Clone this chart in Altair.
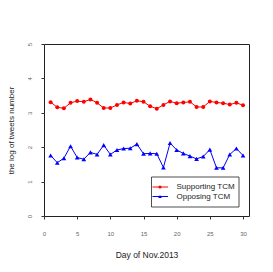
import altair as alt
import pandas as pd

days = list(range(1, 31))
supporting = [3.31, 3.16, 3.13, 3.29, 3.34, 3.32, 3.39, 3.29, 3.14, 3.14,
              3.23, 3.30, 3.27, 3.35, 3.32, 3.19, 3.12, 3.23, 3.33, 3.28,
              3.30, 3.32, 3.17, 3.17, 3.33, 3.30, 3.28, 3.24, 3.29, 3.22]
opposing = [1.76, 1.55, 1.68, 2.03, 1.70, 1.65, 1.85, 1.79, 2.06, 1.79,
            1.92, 1.96, 1.97, 2.09, 1.81, 1.82, 1.81, 1.41, 2.12, 1.92,
            1.82, 1.74, 1.66, 1.73, 1.93, 1.40, 1.40, 1.79, 1.96, 1.76]
series_names = ["Supporting TCM", "Opposing TCM"]
x_ticks = [0, 5, 10, 15, 20, 25, 30]
y_ticks = [0, 1, 2, 3, 4, 5]

df = pd.DataFrame({
    "day": days * 2,
    "value": supporting + opposing,
    "series": [series_names[0]] * 30 + [series_names[1]] * 30,
})

W, H = 205, 172
xs = alt.Scale(domain=[0, 30.9], nice=False, zero=False)
ys = alt.Scale(domain=[0, 5], nice=False)

xax = alt.Axis(values=x_ticks, title="Day of Nov.2013", grid=False, domain=False,
               tickSize=3, tickColor="#333", labelFontSize=6, labelColor="#666",
               labelOverlap=False, labelFlush=False,
               labelPadding=11, titleFontSize=8.5, titleFontWeight="normal",
               titleColor="#222", titlePadding=14, labelFont="Liberation Sans",
               titleFont="Liberation Sans")
yax = alt.Axis(values=y_ticks, title="the log of tweets number", grid=False, domain=False,
               tickSize=3, tickColor="#333", labelFontSize=6, labelColor="#666",
               labelAngle=-90, labelAlign="center", labelBaseline="bottom",
               labelOverlap=False, labelFlush=False,
               labelPadding=9, titleFontSize=8, titleFontWeight="normal",
               titleColor="#222", titlePadding=10.5, labelFont="Liberation Sans",
               titleFont="Liberation Sans")

X = alt.X("day:Q", scale=xs, axis=xax)
Y = alt.Y("value:Q", scale=ys, axis=yax)

base = alt.Chart(df)
sup = base.transform_filter(alt.datum.series == series_names[0])
opp = base.transform_filter(alt.datum.series == series_names[1])

sup_line = sup.mark_line(color="#ff0000", strokeWidth=1).encode(x=X, y=Y)
sup_pts = sup.mark_point(shape="circle", filled=True, color="#ff0000", size=16, opacity=1).encode(x=X, y=Y)
opp_line = opp.mark_line(color="#0000ff", strokeWidth=1).encode(x=X, y=Y)
opp_pts = opp.mark_point(shape="triangle-up", filled=True, color="#0000ff", size=22, opacity=1).encode(x=X, y=Y)

# legend (decoration)
box = alt.Chart(pd.DataFrame({"a": [0]})).mark_rect(
    fill="white", stroke="#222", strokeWidth=0.8).encode(
    x=alt.value(107.5), x2=alt.value(195), y=alt.value(133), y2=alt.value(163))
leg_rows = []
for i, (nm, col, shp, sz) in enumerate(zip(series_names, ["#ff0000", "#0000ff"],
                                           ["circle", "triangle-up"], [10, 14])):
    yy = 143 + 9.5 * i
    d = alt.Chart(pd.DataFrame({"name": [nm]}))
    leg_rows.append(d.mark_rule(color=col, strokeWidth=1).encode(
        x=alt.value(108.5), x2=alt.value(124), y=alt.value(yy)))
    leg_rows.append(d.mark_point(shape=shp, filled=True, color=col, size=sz, opacity=1).encode(
        x=alt.value(116), y=alt.value(yy)))
    leg_rows.append(d.mark_text(align="left", baseline="middle", fontSize=8,
                                font="Liberation Sans", color="#222").encode(
        x=alt.value(132.5), y=alt.value(yy), text="name:N"))

chart = alt.layer(sup_line, opp_line, sup_pts, opp_pts, box, *leg_rows).properties(
    width=W, height=H,
    autosize=alt.AutoSizeParams(type="none"),
    padding={"left": 36, "top": 36, "right": 16, "bottom": 48},
).configure_view(stroke="#222", strokeWidth=1)

chart.save("out.html", embed_options={"renderer": "svg", "actions": False})
